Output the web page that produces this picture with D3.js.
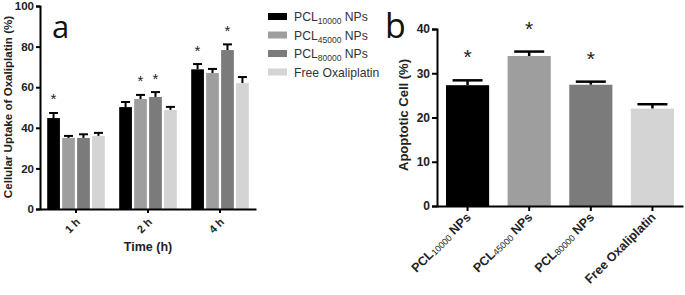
<!DOCTYPE html>
<html><head><meta charset="utf-8">
<script src="https://cdn.jsdelivr.net/npm/d3@7"></script>
<style>body{margin:0;background:#fff;} svg{display:block;}</style>
</head><body>
<svg id="c" width="685" height="295"></svg>
<script>
// ---- Panel a data ----
const timeGroups = ["1 h", "2 h", "4 h"];
const seriesNames = ["PCL10000", "PCL45000", "PCL80000", "Free"];
const legendMain = ["PCL", "PCL", "PCL", "Free Oxaliplatin"];
const legendSub = ["10000", "45000", "80000", ""];
const legendTail = [" NPs", " NPs", " NPs", ""];
const seriesColors = ["#000000", "#9e9e9e", "#7b7b7b", "#d4d4d4"];
const uptake1h = [44.8, 35.0, 35.0, 36.0];
const uptake2h = [50.2, 54.2, 55.2, 48.8];
const uptake4h = [68.8, 67.0, 78.3, 62.0];
const uptakeErr1h = [2.5, 1.0, 1.8, 1.5];
const uptakeErr2h = [2.5, 2.0, 2.4, 1.5];
const uptakeErr4h = [2.6, 2.0, 2.8, 3.0];
const uptakeStar1h = [1, 0, 0, 0];
const uptakeStar2h = [0, 1, 1, 0];
const uptakeStar4h = [1, 0, 1, 0];
const yTicksA = [0, 20, 40, 60, 80, 100];

// ---- Panel b data ----
const bMain = ["PCL", "PCL", "PCL", "Free Oxaliplatin"];
const bSub = ["10000", "45000", "80000", ""];
const bTail = [" NPs", " NPs", " NPs", ""];
const apoptotic = [27.3, 33.9, 27.4, 22.0];
const apoptoticErr = [1.1, 1.0, 0.7, 1.0];
const apoptoticStar = [1, 1, 1, 0];
const yTicksB = [0, 10, 20, 30, 40];

const FONT = "'Liberation Sans', Arial, Helvetica, sans-serif";
const svg = d3.select("#c").style("font-family", FONT);

const uptakeVals = [uptake1h, uptake2h, uptake4h];
const uptakeErrs = [uptakeErr1h, uptakeErr2h, uptakeErr4h];
const uptakeStars = [uptakeStar1h, uptakeStar2h, uptakeStar4h];

// ================= Panel a =================
const xa0 = d3.scaleBand().domain(timeGroups).range([40, 256]).paddingInner(0.2).paddingOuter(0.1);
const xa1 = d3.scaleBand().domain(seriesNames).range([0, xa0.bandwidth()]).paddingInner(0.15);
const ya = d3.scaleLinear().domain([0, 100]).range([209, 6]);

const ga = svg.append("g");
timeGroups.forEach((t, gi) => {
  const g = ga.append("g").attr("transform", `translate(${xa0(t)},0)`);
  seriesNames.forEach((s, si) => {
    const v = uptakeVals[gi][si], e = uptakeErrs[gi][si];
    const x = xa1(s), w = xa1.bandwidth(), cx = x + w / 2;
    g.append("line").attr("x1", cx).attr("x2", cx).attr("y1", ya(v)).attr("y2", ya(v + e))
      .attr("stroke", "#000").attr("stroke-width", 2);
    g.append("line").attr("x1", cx - 4.5).attr("x2", cx + 4.5).attr("y1", ya(v + e)).attr("y2", ya(v + e))
      .attr("stroke", "#000").attr("stroke-width", 2);
    g.append("rect").attr("x", x).attr("y", ya(v)).attr("width", w).attr("height", ya(0) - ya(v))
      .attr("fill", seriesColors[si]);
    if (uptakeStars[gi][si]) {
      g.append("text").attr("x", cx).attr("y", ya(v + e) - 8.5).attr("text-anchor", "middle")
        .attr("font-size", 15).attr("fill", "#222").text("*");
    }
  });
});

const axA = svg.append("g").attr("transform", "translate(40,0)")
  .call(d3.axisLeft(ya).tickValues(yTicksA).tickSize(4).tickPadding(2));
const axAx = svg.append("g").attr("transform", "translate(0,209)")
  .call(d3.axisBottom(xa0).tickSize(4).tickSizeOuter(0).tickPadding(3));
[axA, axAx].forEach(a => {
  a.select(".domain").attr("stroke", "#000").attr("stroke-width", 2);
  a.selectAll(".tick line").attr("stroke", "#000").attr("stroke-width", 2);
  a.selectAll("text").attr("font-family", FONT).attr("font-weight", "bold").attr("fill", "#222");
});
axA.selectAll("text").attr("font-size", 11.5);
axAx.selectAll("text").attr("font-size", 11).attr("text-anchor", "end")
  .attr("dy", "0.35em").attr("y", 0).attr("x", 0)
  .attr("transform", "translate(2,11) rotate(-45)");

svg.append("text").attr("transform", "translate(12,107) rotate(-90)").attr("text-anchor", "middle")
  .attr("font-size", 11.6).attr("font-weight", "bold").attr("fill", "#222")
  .text("Cellular Uptake of Oxaliplatin (%)");
svg.append("text").attr("x", 148).attr("y", 251).attr("text-anchor", "middle")
  .attr("font-size", 12.5).attr("font-weight", "bold").attr("fill", "#222").text("Time (h)");
svg.append("text").attr("x", 52).attr("y", 38).attr("font-size", 31).attr("fill", "#111")
  .attr("font-family", "'Open Sans', 'DejaVu Sans', sans-serif").text("a");

// legend
const lg = svg.append("g");
seriesNames.forEach((s, i) => {
  const y = 16 + i * 18.5;
  lg.append("rect").attr("x", 268).attr("y", y - 3).attr("width", 19).attr("height", 7).attr("fill", seriesColors[i]);
  const t = lg.append("text").attr("x", 294).attr("y", y + 5).attr("font-size", 12.2).attr("fill", "#333");
  t.append("tspan").text(legendMain[i]);
  if (legendSub[i]) {
    t.append("tspan").attr("font-size", 8.5).attr("dy", 3).text(legendSub[i]);
    t.append("tspan").attr("dy", -3).text(legendTail[i]);
  }
});

// ================= Panel b =================
const xb = d3.scaleBand().domain(d3.range(bMain.length)).range([437, 683]).paddingInner(0.3).paddingOuter(0.146);
const yb = d3.scaleLinear().domain([0, 40]).range([206, 29]);
const gb = svg.append("g");
apoptotic.forEach((v, i) => {
  const x = xb(i), w = xb.bandwidth(), cx = x + w / 2, e = apoptoticErr[i];
  gb.append("line").attr("x1", cx).attr("x2", cx).attr("y1", yb(v)).attr("y2", yb(v + e))
    .attr("stroke", "#000").attr("stroke-width", 2.5);
  gb.append("line").attr("x1", cx - 15).attr("x2", cx + 15).attr("y1", yb(v + e)).attr("y2", yb(v + e))
    .attr("stroke", "#000").attr("stroke-width", 2.5);
  gb.append("rect").attr("x", x).attr("y", yb(v)).attr("width", w).attr("height", yb(0) - yb(v))
    .attr("fill", seriesColors[i]);
  if (apoptoticStar[i]) {
    gb.append("text").attr("x", cx).attr("y", yb(v + e) - 16).attr("text-anchor", "middle")
      .attr("font-size", 21).attr("fill", "#222").text("*");
  }
});

const axB = svg.append("g").attr("transform", "translate(437,0)")
  .call(d3.axisLeft(yb).tickValues(yTicksB).tickSize(5).tickPadding(2));
const axBx = svg.append("g").attr("transform", "translate(0,206)")
  .call(d3.axisBottom(xb).tickSize(5).tickSizeOuter(0).tickFormat(""));
[axB, axBx].forEach(a => {
  a.select(".domain").attr("stroke", "#000").attr("stroke-width", 2);
  a.selectAll(".tick line").attr("stroke", "#000").attr("stroke-width", 2);
  a.selectAll("text").attr("font-family", FONT).attr("font-weight", "bold").attr("fill", "#222");
});
axB.selectAll("text").attr("font-size", 12);

axBx.selectAll(".tick").each(function (d) {
  const t = d3.select(this).append("text").attr("text-anchor", "end")
    .attr("transform", "translate(4,12) rotate(-45)")
    .attr("font-size", 12.5).attr("font-weight", "bold").attr("fill", "#222").attr("font-family", FONT);
  t.append("tspan").text(bMain[d]);
  if (bSub[d]) {
    t.append("tspan").attr("font-size", 9).attr("font-weight", "normal").attr("dy", 1).text(bSub[d]);
    t.append("tspan").attr("dy", -1).text(bTail[d]);
  }
});

svg.append("text").attr("transform", "translate(408,115) rotate(-90)").attr("text-anchor", "middle")
  .attr("font-size", 13).attr("font-weight", "bold").attr("fill", "#222").text("Apoptotic Cell (%)");
svg.append("text").attr("x", 385).attr("y", 38).attr("font-size", 34).attr("fill", "#111")
  .attr("font-family", "'Open Sans', 'DejaVu Sans', sans-serif").text("b");
</script>
</body></html>
